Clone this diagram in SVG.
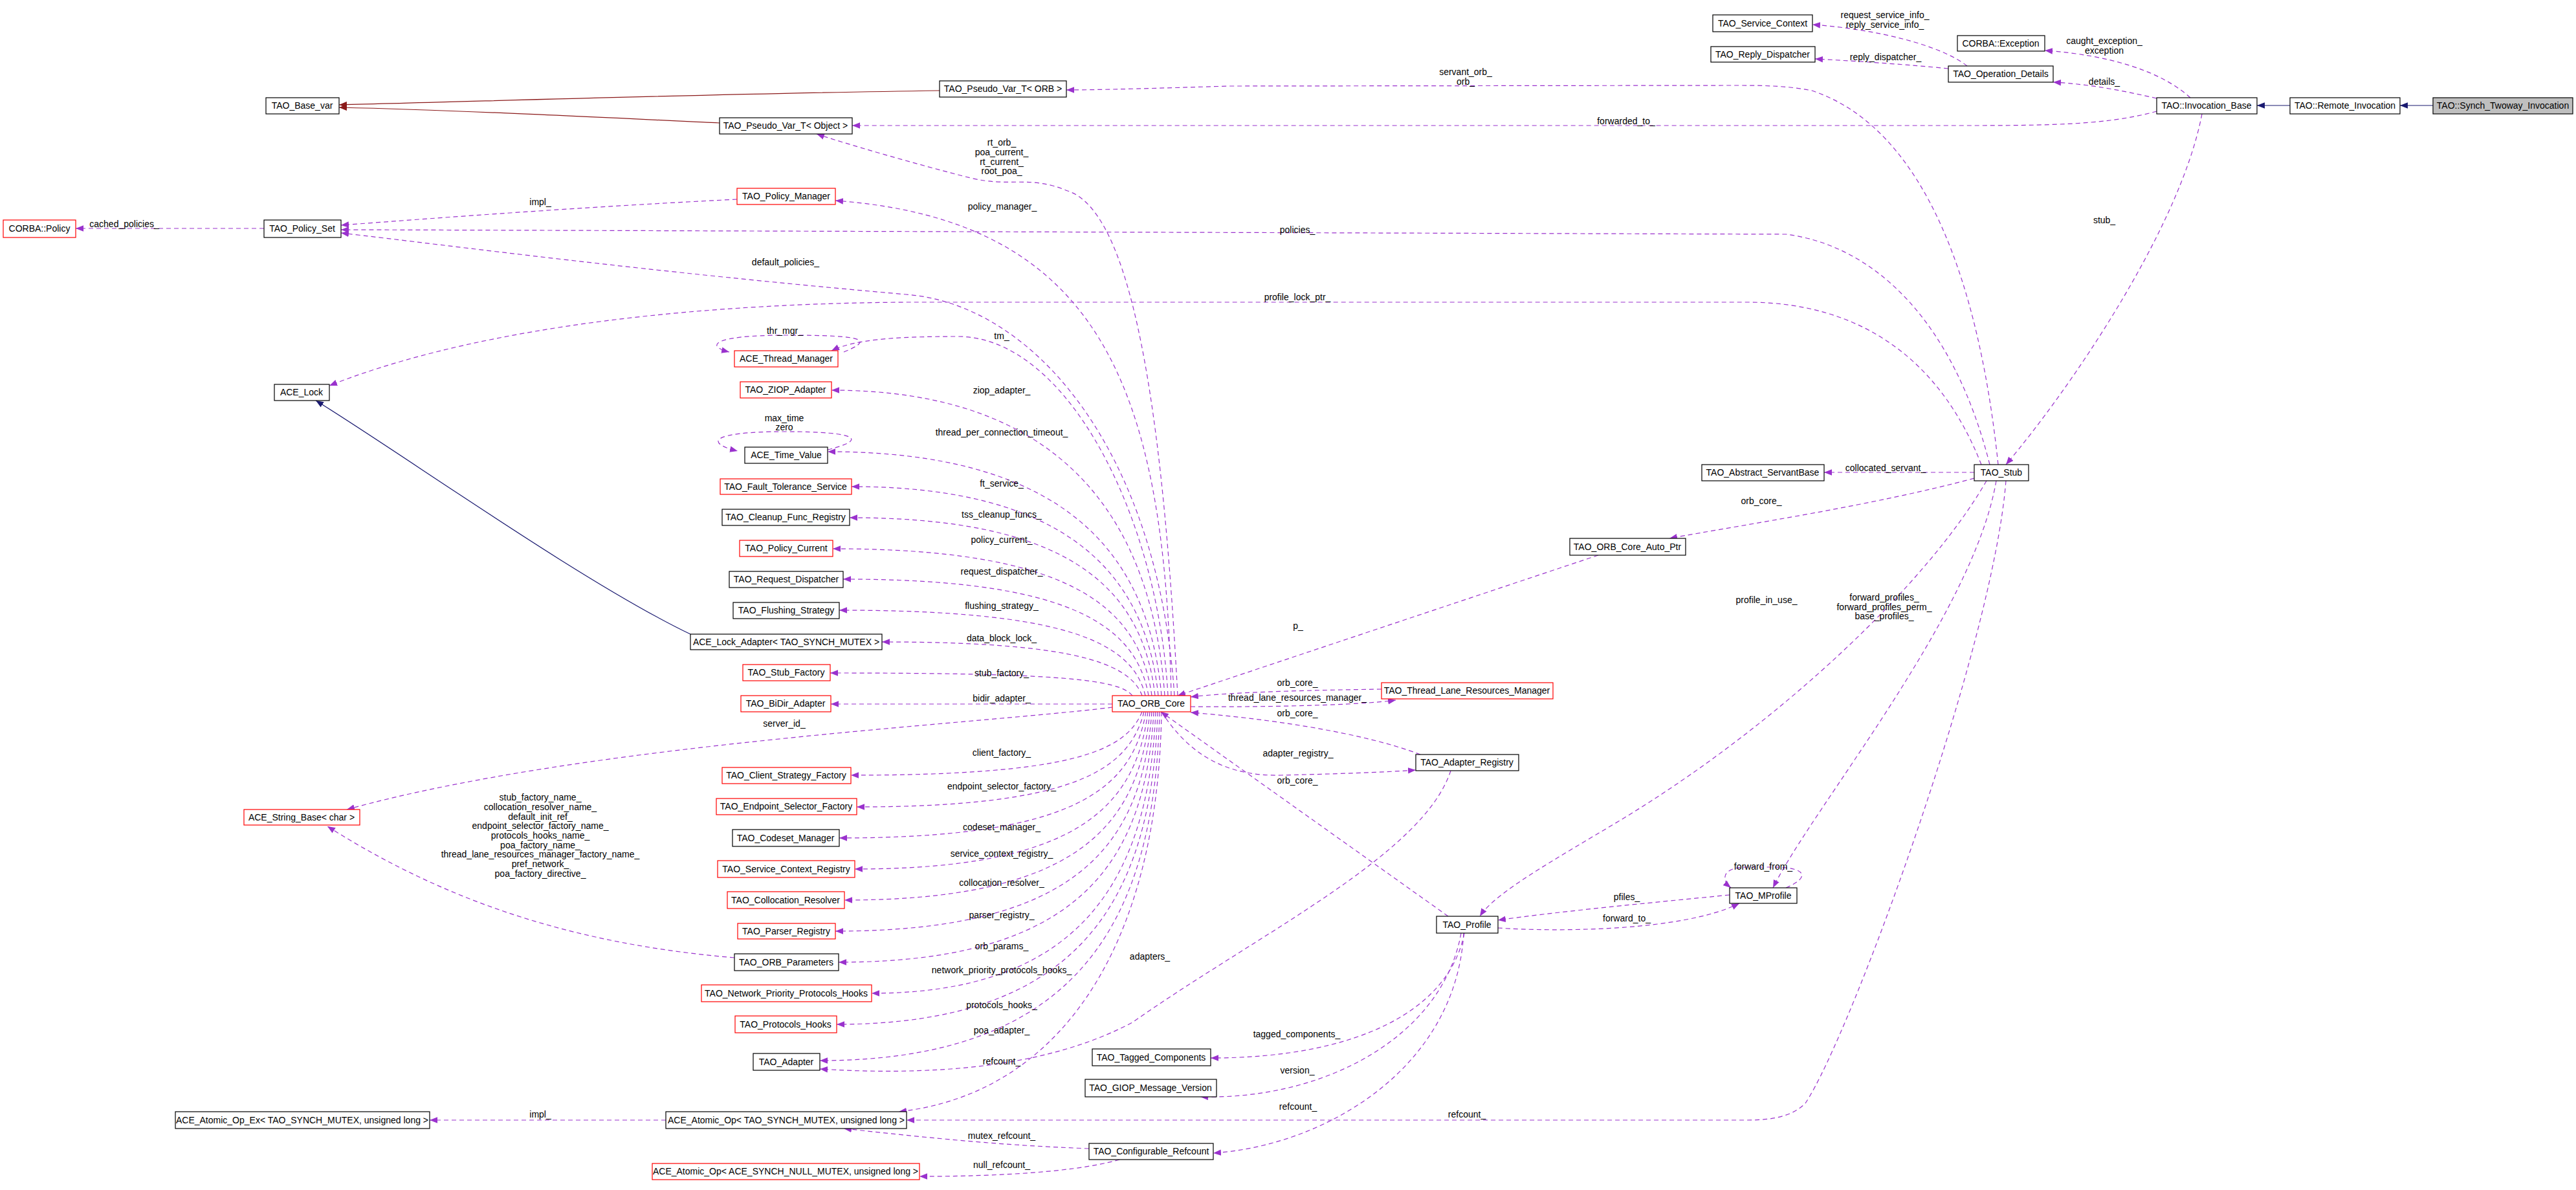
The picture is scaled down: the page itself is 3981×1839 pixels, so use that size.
<svg xmlns="http://www.w3.org/2000/svg" width="3981" height="1839" viewBox="0 0 3981 1839">
<style>
text{font-family:"Liberation Sans",Arial,sans-serif;font-size:14px;fill:#000}
.n rect{fill:#fff;stroke:#000;stroke-width:1.2}
.n.r rect{stroke:#f00}
.n text{text-anchor:middle}
.e path{fill:none;stroke:#9a32cd;stroke-width:1.2;stroke-dasharray:7,5}
.e path.nv{stroke:#191970;stroke-dasharray:none;marker-end:url(#an)}
.e path.dr{stroke:#8b1a1a;stroke-dasharray:none;marker-end:url(#ad)}
.e path.p{marker-end:url(#ap)}
.l text{text-anchor:middle}
</style>
<defs>
<marker id="ap" viewBox="0 0 10 8" refX="10" refY="4" markerWidth="12" markerHeight="10" markerUnits="userSpaceOnUse" orient="auto"><path d="M0,0L10,4L0,8z" fill="#9a32cd"/></marker>
<marker id="an" viewBox="0 0 10 8" refX="10" refY="4" markerWidth="12" markerHeight="10" markerUnits="userSpaceOnUse" orient="auto"><path d="M0,0L10,4L0,8z" fill="#191970"/></marker>
<marker id="ad" viewBox="0 0 10 8" refX="10" refY="4" markerWidth="12" markerHeight="10" markerUnits="userSpaceOnUse" orient="auto"><path d="M0,0L10,4L0,8z" fill="#8b1a1a"/></marker>
</defs>
<rect width="3981" height="1839" fill="#fff"/>
<g id="edges" class="e">
<path class="nv" d="M3760,163 L3709,163"/>
<path class="nv" d="M3539,163 L3488,163"/>
<path class="dr" d="M1452,140 C1100,145 800,155 524,162"/>
<path class="dr" d="M1112,190 C900,180 700,170 524,166"/>
<path class="nv" d="M1067,980 C900,900 620,700 488,619"/>
<path class="p" d="M3333,152 C3280,140 3230,130 3173,127"/>
<path class="p" d="M3385,151 C3340,110 3260,85 3160,78"/>
<path class="p" d="M3040,102 C3000,70 2900,45 2801,38"/>
<path class="p" d="M3011,106 C2950,100 2880,95 2805,91"/>
<path class="p" d="M3333,172 C3250,195 3150,194 3000,194 L1317,194"/>
<path class="p" d="M3403,176 C3370,350 3200,600 3100,718"/>
<path class="p" d="M3088,718 C3060,450 2980,200 2800,140 C2760,132 2720,132 2680,132 L1900,133 C1800,136 1700,139 1648,139"/>
<path class="p" d="M3075,718 C3020,500 2900,380 2760,362 L527,355"/>
<path class="p" d="M3062,718 C3000,560 2880,467 2700,467 L1400,467 C1000,470 700,520 509,596"/>
<path class="p" d="M3051,730 L2819,730"/>
<path class="p" d="M3051,739 C2900,780 2700,810 2580,832"/>
<path class="p" d="M2470,858 L1820,1075"/>
<path class="p" d="M3070,743 C2980,900 2750,1120 2500,1270 C2400,1330 2310,1380 2287,1416"/>
<path class="p" d="M3085,743 C3050,950 2800,1250 2740,1372"/>
<path class="p" d="M3100,743 C3080,1000 2860,1600 2790,1705 C2770,1725 2740,1731 2700,1731 L1401,1731"/>
<path class="p" d="M2760,1372 C2800,1355 2790,1340 2740,1340 L2700,1340 C2660,1340 2660,1360 2675,1372"/>
<path class="p" d="M2673,1383 C2500,1400 2400,1410 2315,1422"/>
<path class="p" d="M2315,1434 C2400,1440 2600,1440 2688,1396"/>
<path class="p" d="M2238,1416 L1794,1100"/>
<path class="p" d="M2135,1065 C2000,1067 1900,1070 1840,1077"/>
<path class="p" d="M1840,1092 C1950,1093 2100,1090 2157,1082"/>
<path class="p" d="M2195,1166 C2100,1130 1950,1110 1840,1101"/>
<path class="p" d="M1795,1100 C1840,1170 1900,1200 1980,1198 C2060,1196 2130,1194 2188,1190"/>
<path class="p" d="M2242,1191 C2200,1320 1950,1440 1750,1580 C1600,1660 1400,1660 1267,1652"/>
<path class="p" d="M2263,1442 C2240,1560 2100,1635 1871,1635"/>
<path class="p" d="M2258,1442 C2230,1600 2050,1700 1855,1695"/>
<path class="p" d="M2262,1442 C2250,1650 2050,1770 1875,1782"/>
<path class="p" d="M1683,1775 C1550,1770 1450,1760 1304,1744"/>
<path class="p" d="M1730,1792 C1650,1815 1500,1818 1421,1818"/>
<path class="p" d="M1029,1731 L664,1731"/>
<path class="p" d="M1135,1480 C900,1460 700,1400 506,1277"/>
<path class="p" d="M1139,308 C900,320 700,335 527,348"/>
<path class="p" d="M408,353 L117,353"/>
<path class="p" d="M1304,544 C1350,525 1340,518 1214,518 C1100,518 1090,535 1127,544"/>
<path class="p" d="M1279,695 C1340,680 1330,667 1212,667 C1095,667 1090,685 1140,697"/>
<path class="p" d="M1820,1075 C1800,700 1760,330 1650,295 C1590,270 1560,290 1500,275 C1420,255 1300,220 1262,207"/>
<path class="p" d="M1810,1075 C1800,600 1700,340 1291,310"/>
<path class="p" d="M1815,1075 C1790,700 1600,470 1400,455 C1000,420 700,380 527,360"/>
<path class="p" d="M1805,1075 C1790,800 1650,520 1480,520 C1380,520 1320,525 1285,542"/>
<path class="p" d="M1800,1075 C1780,800 1640,603 1285,603"/>
<path class="p" d="M1795,1075 C1775,850 1640,698 1279,698"/>
<path class="p" d="M1790,1075 C1770,880 1640,752 1316,752"/>
<path class="p" d="M1785,1075 C1765,900 1640,800 1313,800"/>
<path class="p" d="M1780,1075 C1760,930 1640,848 1287,848"/>
<path class="p" d="M1775,1075 C1755,960 1640,895 1303,895"/>
<path class="p" d="M1770,1075 C1750,990 1640,943 1297,943"/>
<path class="p" d="M1765,1075 C1745,1020 1640,992 1363,992"/>
<path class="p" d="M1750,1075 C1730,1050 1640,1040 1283,1040"/>
<path class="p" d="M1719,1088 L1284,1088"/>
<path class="p" d="M1719,1093 C1500,1120 900,1150 536,1251"/>
<path class="p" d="M1765,1100 C1740,1160 1660,1198 1315,1198"/>
<path class="p" d="M1768,1100 C1745,1190 1660,1247 1324,1247"/>
<path class="p" d="M1771,1100 C1750,1220 1660,1295 1297,1295"/>
<path class="p" d="M1774,1100 C1755,1250 1660,1343 1321,1343"/>
<path class="p" d="M1777,1100 C1760,1280 1660,1391 1305,1391"/>
<path class="p" d="M1780,1100 C1765,1310 1660,1439 1291,1439"/>
<path class="p" d="M1783,1100 C1770,1340 1660,1487 1296,1487"/>
<path class="p" d="M1786,1100 C1775,1370 1660,1535 1347,1535"/>
<path class="p" d="M1789,1100 C1780,1400 1660,1583 1293,1583"/>
<path class="p" d="M1792,1100 C1785,1430 1660,1639 1267,1639"/>
<path class="p" d="M1795,1100 C1790,1460 1640,1690 1389,1718"/>
</g>
<g id="labels" class="l">
<text x="2913" y="28">request_service_info_</text>
<text x="2913" y="43">reply_service_info_</text>
<text x="2914" y="93">reply_dispatcher_</text>
<text x="3252" y="68">caught_exception_</text>
<text x="3252" y="83">exception</text>
<text x="3252" y="131">details_</text>
<text x="3252" y="345">stub_</text>
<text x="2265" y="116">servant_orb_</text>
<text x="2265" y="131">orb_</text>
<text x="2513" y="192">forwarded_to_</text>
<text x="1548" y="225">rt_orb_</text>
<text x="1548" y="240">poa_current_</text>
<text x="1548" y="255">rt_current_</text>
<text x="1548" y="269">root_poa_</text>
<text x="1549" y="324">policy_manager_</text>
<text x="2005" y="360">policies_</text>
<text x="2005" y="464">profile_lock_ptr_</text>
<text x="835" y="317">impl_</text>
<text x="192" y="351">cached_policies_</text>
<text x="1214" y="410">default_policies_</text>
<text x="1213" y="516">thr_mgr_</text>
<text x="1548" y="524">tm_</text>
<text x="1548" y="608">ziop_adapter_</text>
<text x="1212" y="651">max_time</text>
<text x="1212" y="665">zero</text>
<text x="1548" y="673">thread_per_connection_timeout_</text>
<text x="1548" y="752">ft_service_</text>
<text x="1548" y="800">tss_cleanup_funcs_</text>
<text x="1548" y="839">policy_current_</text>
<text x="1548" y="888">request_dispatcher_</text>
<text x="1548" y="941">flushing_strategy_</text>
<text x="1548" y="991">data_block_lock_</text>
<text x="1548" y="1045">stub_factory_</text>
<text x="1548" y="1084">bidir_adapter_</text>
<text x="1212" y="1123">server_id_</text>
<text x="1548" y="1168">client_factory_</text>
<text x="1548" y="1220">endpoint_selector_factory_</text>
<text x="1548" y="1283">codeset_manager_</text>
<text x="1548" y="1324">service_context_registry_</text>
<text x="1548" y="1369">collocation_resolver_</text>
<text x="1548" y="1419">parser_registry_</text>
<text x="1548" y="1467">orb_params_</text>
<text x="1548" y="1504">network_priority_protocols_hooks_</text>
<text x="1548" y="1558">protocols_hooks_</text>
<text x="1548" y="1597">poa_adapter_</text>
<text x="1548" y="1645">refcount_</text>
<text x="1548" y="1760">mutex_refcount_</text>
<text x="1548" y="1805">null_refcount_</text>
<text x="835" y="1237">stub_factory_name_</text>
<text x="835" y="1252">collocation_resolver_name_</text>
<text x="835" y="1267">default_init_ref_</text>
<text x="835" y="1281">endpoint_selector_factory_name_</text>
<text x="835" y="1296">protocols_hooks_name_</text>
<text x="835" y="1311">poa_factory_name_</text>
<text x="835" y="1325">thread_lane_resources_manager_factory_name_</text>
<text x="835" y="1340">pref_network_</text>
<text x="835" y="1355">poa_factory_directive_</text>
<text x="835" y="1727">impl_</text>
<text x="2914" y="728">collocated_servant_</text>
<text x="2722" y="779">orb_core_</text>
<text x="2006" y="972">p_</text>
<text x="2730" y="932">profile_in_use_</text>
<text x="2912" y="928">forward_profiles_</text>
<text x="2912" y="943">forward_profiles_perm_</text>
<text x="2912" y="957">base_profiles_</text>
<text x="2005" y="1060">orb_core_</text>
<text x="2005" y="1083">thread_lane_resources_manager_</text>
<text x="2005" y="1107">orb_core_</text>
<text x="2006" y="1169">adapter_registry_</text>
<text x="2005" y="1211">orb_core_</text>
<text x="1777" y="1483">adapters_</text>
<text x="2725" y="1344">forward_from_</text>
<text x="2514" y="1391">pfiles_</text>
<text x="2514" y="1424">forward_to_</text>
<text x="2004" y="1603">tagged_components_</text>
<text x="2005" y="1659">version_</text>
<text x="2006" y="1715">refcount_</text>
<text x="2267" y="1727">refcount_</text>
</g>
<g id="Synch_Twoway_Invocation" class="n"><rect x="3760" y="151" width="216" height="25" style="fill:#bfbfbf"/><text x="3868" y="168">TAO::Synch_Twoway_Invocation</text></g>
<g id="Remote_Invocation" class="n"><rect x="3539" y="151" width="170" height="25"/><text x="3624" y="168">TAO::Remote_Invocation</text></g>
<g id="Invocation_Base" class="n"><rect x="3333" y="151" width="155" height="25"/><text x="3410" y="168">TAO::Invocation_Base</text></g>
<g id="CORBA_Exception" class="n"><rect x="3025" y="55" width="135" height="24"/><text x="3092" y="72">CORBA::Exception</text></g>
<g id="Operation_Details" class="n"><rect x="3011" y="102" width="162" height="25"/><text x="3092" y="119">TAO_Operation_Details</text></g>
<g id="Service_Context" class="n"><rect x="2647" y="23" width="154" height="26"/><text x="2724" y="41">TAO_Service_Context</text></g>
<g id="Reply_Dispatcher" class="n"><rect x="2644" y="72" width="161" height="24"/><text x="2724" y="89">TAO_Reply_Dispatcher</text></g>
<g id="Pseudo_Var_ORB" class="n"><rect x="1452" y="125" width="196" height="25"/><text x="1550" y="142">TAO_Pseudo_Var_T&lt; ORB &gt;</text></g>
<g id="Pseudo_Var_Object" class="n"><rect x="1112" y="182" width="205" height="25"/><text x="1214" y="199">TAO_Pseudo_Var_T&lt; Object &gt;</text></g>
<g id="Base_var" class="n"><rect x="411" y="151" width="113" height="25"/><text x="467" y="168">TAO_Base_var</text></g>
<g id="Policy_Manager" class="n r"><rect x="1139" y="291" width="152" height="25"/><text x="1215" y="308">TAO_Policy_Manager</text></g>
<g id="CORBA_Policy" class="n r"><rect x="5" y="340" width="112" height="27"/><text x="61" y="358">CORBA::Policy</text></g>
<g id="Policy_Set" class="n"><rect x="408" y="340" width="119" height="27"/><text x="467" y="358">TAO_Policy_Set</text></g>
<g id="Thread_Manager" class="n r"><rect x="1135" y="542" width="160" height="25"/><text x="1215" y="559">ACE_Thread_Manager</text></g>
<g id="ACE_Lock" class="n"><rect x="424" y="594" width="85" height="25"/><text x="466" y="611">ACE_Lock</text></g>
<g id="ZIOP_Adapter" class="n r"><rect x="1144" y="590" width="141" height="25"/><text x="1214" y="607">TAO_ZIOP_Adapter</text></g>
<g id="Time_Value" class="n"><rect x="1151" y="691" width="128" height="25"/><text x="1215" y="708">ACE_Time_Value</text></g>
<g id="Fault_Tolerance" class="n r"><rect x="1113" y="740" width="203" height="24"/><text x="1214" y="757">TAO_Fault_Tolerance_Service</text></g>
<g id="Cleanup" class="n"><rect x="1116" y="787" width="197" height="25"/><text x="1214" y="804">TAO_Cleanup_Func_Registry</text></g>
<g id="Policy_Current" class="n r"><rect x="1143" y="835" width="144" height="25"/><text x="1215" y="852">TAO_Policy_Current</text></g>
<g id="Request_Dispatcher" class="n"><rect x="1127" y="883" width="176" height="25"/><text x="1215" y="900">TAO_Request_Dispatcher</text></g>
<g id="Flushing_Strategy" class="n"><rect x="1133" y="931" width="164" height="25"/><text x="1215" y="948">TAO_Flushing_Strategy</text></g>
<g id="Lock_Adapter" class="n"><rect x="1067" y="980" width="296" height="24"/><text x="1215" y="997">ACE_Lock_Adapter&lt; TAO_SYNCH_MUTEX &gt;</text></g>
<g id="Stub_Factory" class="n r"><rect x="1148" y="1027" width="135" height="25"/><text x="1215" y="1044">TAO_Stub_Factory</text></g>
<g id="BiDir_Adapter" class="n r"><rect x="1145" y="1075" width="139" height="25"/><text x="1214" y="1092">TAO_BiDir_Adapter</text></g>
<g id="Client_Strategy" class="n r"><rect x="1116" y="1186" width="199" height="25"/><text x="1215" y="1203">TAO_Client_Strategy_Factory</text></g>
<g id="String_Base" class="n r"><rect x="377" y="1251" width="179" height="24"/><text x="466" y="1268">ACE_String_Base&lt; char &gt;</text></g>
<g id="Endpoint_Selector" class="n r"><rect x="1107" y="1234" width="217" height="25"/><text x="1215" y="1251">TAO_Endpoint_Selector_Factory</text></g>
<g id="Codeset_Manager" class="n"><rect x="1132" y="1282" width="165" height="26"/><text x="1214" y="1300">TAO_Codeset_Manager</text></g>
<g id="Service_Context_Registry" class="n r"><rect x="1109" y="1330" width="212" height="26"/><text x="1215" y="1348">TAO_Service_Context_Registry</text></g>
<g id="Collocation_Resolver" class="n r"><rect x="1124" y="1378" width="181" height="26"/><text x="1214" y="1396">TAO_Collocation_Resolver</text></g>
<g id="Parser_Registry" class="n r"><rect x="1140" y="1427" width="151" height="24"/><text x="1215" y="1444">TAO_Parser_Registry</text></g>
<g id="ORB_Parameters" class="n"><rect x="1135" y="1474" width="161" height="26"/><text x="1215" y="1492">TAO_ORB_Parameters</text></g>
<g id="Network_Priority" class="n r"><rect x="1084" y="1522" width="263" height="26"/><text x="1215" y="1540">TAO_Network_Priority_Protocols_Hooks</text></g>
<g id="Protocols_Hooks" class="n r"><rect x="1136" y="1570" width="157" height="26"/><text x="1214" y="1588">TAO_Protocols_Hooks</text></g>
<g id="Adapter" class="n"><rect x="1164" y="1628" width="103" height="26"/><text x="1215" y="1646">TAO_Adapter</text></g>
<g id="Atomic_Op_Ex" class="n"><rect x="271" y="1718" width="393" height="26"/><text x="467" y="1736">ACE_Atomic_Op_Ex&lt; TAO_SYNCH_MUTEX, unsigned long &gt;</text></g>
<g id="Atomic_Op" class="n"><rect x="1029" y="1718" width="372" height="26"/><text x="1215" y="1736">ACE_Atomic_Op&lt; TAO_SYNCH_MUTEX, unsigned long &gt;</text></g>
<g id="Atomic_Op_Null" class="n r"><rect x="1008" y="1798" width="413" height="25"/><text x="1214" y="1815">ACE_Atomic_Op&lt; ACE_SYNCH_NULL_MUTEX, unsigned long &gt;</text></g>
<g id="ORB_Core" class="n r"><rect x="1719" y="1075" width="121" height="25"/><text x="1779" y="1092">TAO_ORB_Core</text></g>
<g id="Thread_Lane_RM" class="n r"><rect x="2135" y="1055" width="265" height="25"/><text x="2267" y="1072">TAO_Thread_Lane_Resources_Manager</text></g>
<g id="Adapter_Registry" class="n"><rect x="2188" y="1166" width="159" height="25"/><text x="2267" y="1183">TAO_Adapter_Registry</text></g>
<g id="Profile" class="n"><rect x="2220" y="1416" width="95" height="26"/><text x="2267" y="1434">TAO_Profile</text></g>
<g id="MProfile" class="n"><rect x="2673" y="1372" width="104" height="24"/><text x="2725" y="1389">TAO_MProfile</text></g>
<g id="Tagged_Components" class="n"><rect x="1688" y="1621" width="183" height="26"/><text x="1779" y="1639">TAO_Tagged_Components</text></g>
<g id="GIOP_Message_Version" class="n"><rect x="1677" y="1668" width="203" height="27"/><text x="1778" y="1686">TAO_GIOP_Message_Version</text></g>
<g id="Configurable_Refcount" class="n"><rect x="1683" y="1767" width="192" height="25"/><text x="1779" y="1784">TAO_Configurable_Refcount</text></g>
<g id="ORB_Core_Auto_Ptr" class="n"><rect x="2426" y="832" width="179" height="26"/><text x="2515" y="850">TAO_ORB_Core_Auto_Ptr</text></g>
<g id="Abstract_ServantBase" class="n"><rect x="2630" y="718" width="189" height="25"/><text x="2724" y="735">TAO_Abstract_ServantBase</text></g>
<g id="Stub" class="n"><rect x="3051" y="718" width="84" height="25"/><text x="3093" y="735">TAO_Stub</text></g>
</svg>
